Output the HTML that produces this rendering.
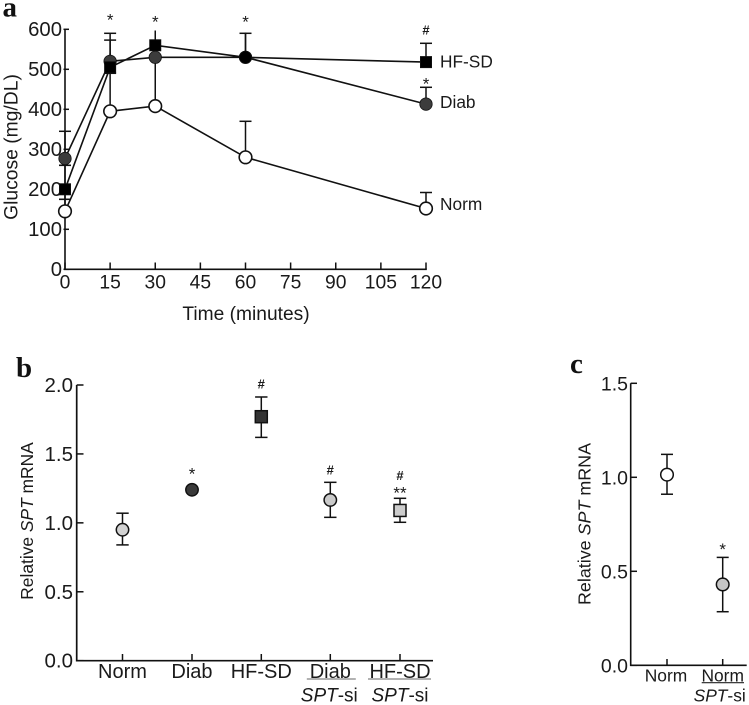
<!DOCTYPE html>
<html lang="en">
<head>
<meta charset="utf-8">
<title>Glucose and SPT mRNA charts</title>
<style>
html,body{margin:0;padding:0;background:#fff;width:749px;height:705px;overflow:hidden}
svg{display:block;font-family:"Liberation Sans",sans-serif;fill:#1a1a1a}
.letter{font-family:"Liberation Serif",serif;font-weight:bold;font-size:29px;fill:#111}
</style>
</head>
<body>
<svg id="fig" width="749" height="705" viewBox="0 0 749 705" xmlns="http://www.w3.org/2000/svg">
  <text class="letter" x="2.5" y="16.5">a</text>
  <text class="letter" x="16" y="377">b</text>
  <text class="letter" x="570" y="373">c</text>
  <text x="246" y="320" text-anchor="middle" font-size="19.2">Time (minutes)</text>
  <text transform="translate(17.5,147) rotate(-90)" text-anchor="middle" font-size="19.3">Glucose (mg/DL)</text>
  <text transform="translate(33,521) rotate(-90)" text-anchor="middle" font-size="17.4">Relative <tspan font-style="italic">SPT</tspan> mRNA</text>
  <text transform="translate(590.5,524) rotate(-90)" text-anchor="middle" font-size="17.9">Relative <tspan font-style="italic">SPT</tspan> mRNA</text>
  <text x="440" y="67.5" font-size="17.3">HF-SD</text>
  <text x="440" y="108" font-size="17.3">Diab</text>
  <text x="440" y="210" font-size="17.3">Norm</text>
</svg>
<script>
/* Panel a data */
var aXTicks = [0, 15, 30, 45, 60, 75, 90, 105, 120];
var aYTicks = [0, 100, 200, 300, 400, 500, 600];
var times = [0, 15, 30, 60, 120];
var normValues = [145, 395, 408, 280, 152];
var normUpper = [175, 573, 560, 370, 192];
var diabValues = [277, 520, 530, 530, 413];
var diabUpper = [345, 590, 560, 590, 455];
var hfValues = [200, 505, 560, 530, 518];
var hfUpper = [260, 540, 597, 592, 565];
var hfLower = [175, 490, 560, 530, 518];
var hfShapes = ['square', 'square', 'square', 'circle', 'square'];
var aMarkTimes = [15, 30, 60, 120, 120];
var aMarkLevels = [632, 627, 627, 472, 607];
var aMarkSymbols = ['*', '*', '*', '*', '#'];

/* Panel b data */
var bCategories = ['Norm', 'Diab', 'HF-SD', 'Diab', 'HF-SD'];
var bSecondRow = ['', '', '', 'SPT', 'SPT'];
var bYTicks = [0, 0.5, 1, 1.5, 2];
var bValues = [0.95, 1.24, 1.77, 1.166, 1.09];
var bUpper = [1.07, null, 1.913, 1.294, 1.178];
var bLower = [0.84, null, 1.62, 1.04, 1.004];
var bShapes = ['circle', 'circle', 'square', 'circle', 'square'];
var bFills = ['#d2d2d2', '#3a3a3a', '#333333', '#cacaca', '#cdcdcd'];
var bMarkLevels = [null, 1.38, 2.033, 1.409, 1.369];
var bMarkSymbols = ['', '*', '#', '#', '#'];

/* Panel c data */
var cCategories = ['Norm', 'Norm'];
var cSecondRow = ['', 'SPT'];
var cYTicks = [0, 0.5, 1, 1.5];
var cValues = [1.014, 0.43];
var cUpper = [1.122, 0.574];
var cLower = [0.91, 0.285];
var cFills = ['#ffffff', '#c6c6c6'];

var NS = 'http://www.w3.org/2000/svg';
var fig = document.getElementById('fig');

function addLine(x1, y1, x2, y2, sw, name, color) {
  var el = document.createElementNS(NS, 'line');
  el.setAttribute('x1', x1);
  el.setAttribute('y1', y1);
  el.setAttribute('x2', x2);
  el.setAttribute('y2', y2);
  el.setAttribute('stroke', color || '#111');
  el.setAttribute('stroke-width', sw);
  
  
  fig.appendChild(el);
  return el;
}
function addText(x, y, str, size, anchor, name) {
  var el = document.createElementNS(NS, 'text');
  el.setAttribute('x', x);
  el.setAttribute('y', y);
  el.setAttribute('font-size', size);
  el.setAttribute('text-anchor', anchor);
  el.textContent = str;
  
  
  fig.appendChild(el);
  return el;
}
function addSymbol(x, baseY, sym, name) {
  var isHash = sym === '#';
  var el = addText(x, baseY + (isHash ? 8 : 9.2), sym, isHash ? 13 : 17, 'middle', name);
  if (isHash) {
    el.setAttribute('font-weight', 'bold');
  }
  return el;
}
function addMarker(shape, x, y, r, fill, sw, name) {
  var el;
  if (shape === 'circle') {
    el = document.createElementNS(NS, 'circle');
    el.setAttribute('cx', x);
    el.setAttribute('cy', y);
    el.setAttribute('r', r);
  } else {
    el = document.createElementNS(NS, 'rect');
    el.setAttribute('x', x - r);
    el.setAttribute('y', y - r);
    el.setAttribute('width', 2 * r);
    el.setAttribute('height', 2 * r);
  }
  el.setAttribute('fill', fill);
  el.setAttribute('stroke', '#111');
  el.setAttribute('stroke-width', sw);
  
  
  fig.appendChild(el);
  return el;
}
function addPolyline(points, name) {
  var el = document.createElementNS(NS, 'polyline');
  el.setAttribute('points', points);
  el.setAttribute('fill', 'none');
  el.setAttribute('stroke', '#111');
  el.setAttribute('stroke-width', 1.6);
  
  
  fig.appendChild(el);
  return el;
}
function addSiLabel(x, y, str, size, name) {
  var el = addText(x, y, '', size, 'middle', name);
  var it = document.createElementNS(NS, 'tspan');
  it.setAttribute('font-style', 'italic');
  it.textContent = str;
  el.appendChild(it);
  el.appendChild(document.createTextNode('-si'));
  return el;
}

/* Panel a */
function ax(v) { return 65 + v * (426 - 65) / 120; }
function ay(v) { return 269.3 - v * 0.4; }

addLine(65, ay(600), 65, 270, 1.6, 'panel-a-y-axis');
addLine(64, 269.3, 426.8, 269.3, 1.6, 'panel-a-x-axis');
aYTicks.forEach(function (t) {
  addLine(63.5, ay(t), 69, ay(t), 1.5, 'panel-a-y-tick-' + t);
  addText(62, ay(t) + 6.7, String(t), 20.3, 'end', 'panel-a-y-tick-label-' + t);
});
aXTicks.forEach(function (t) {
  addLine(ax(t), 269.3, ax(t), 262.5, 1.5, 'panel-a-x-tick-' + t);
  addText(ax(t), 288.3, String(t), 19.3, 'middle', 'panel-a-x-tick-label-' + t);
});

function errorBars(values, upper, lower, name) {
  times.forEach(function (t, i) {
    var top = upper ? upper[i] : values[i];
    var bottom = lower ? lower[i] : values[i];
    addLine(ax(t), ay(top), ax(t), ay(bottom), 1.5, name + '-error-' + t);
    if (!(name === 'diab' && t === 30) && !(name === 'norm' && t === 30) && !(name === 'hf-sd' && (t === 15 || t === 30 || t === 60))) {
      addLine(ax(t) - 6, ay(top), ax(t) + 6, ay(top), 1.5, name + '-error-cap-' + t);
    }
    if (lower && (t === 0 || t === 15)) {
      addLine(ax(t) - 6, ay(bottom), ax(t) + 6, ay(bottom), 1.5, name + '-error-low-cap-' + t);
    }
  });
}
errorBars(diabValues, diabUpper, null, 'diab');
errorBars(hfValues, hfUpper, hfLower, 'hf-sd');
errorBars(normValues, normUpper, null, 'norm');
addLine(ax(0) - 6, ay(260), ax(0) + 6, ay(260), 1.5, 'diab-error-low-cap-0');

function pointsOf(values) {
  return values.map(function (v, i) { return ax(times[i]) + ',' + ay(v); }).join(' ');
}
addPolyline(pointsOf(diabValues), 'diab-line');
addPolyline(pointsOf(hfValues), 'hf-sd-line');
addPolyline(pointsOf(normValues), 'norm-line');

diabValues.forEach(function (v, i) {
  addMarker('circle', ax(times[i]), ay(v), 6.2, '#3c3c3c', 0.8, 'diab-point-' + times[i]);
});
hfValues.forEach(function (v, i) {
  addMarker(hfShapes[i], ax(times[i]), ay(v), hfShapes[i] === 'circle' ? 6.2 : 5.6, '#000', 0.8, 'hf-sd-point-' + times[i]);
});
normValues.forEach(function (v, i) {
  addMarker('circle', ax(times[i]), ay(v), 6.3, '#fff', 1.6, 'norm-point-' + times[i]);
});
aMarkSymbols.forEach(function (s, i) {
  addSymbol(ax(aMarkTimes[i]), ay(aMarkLevels[i]), s, 'panel-a-significance-' + i);
});

/* Panel b */
var bX = [122.5, 192, 261.3, 330.3, 400];
function by(v) { return 660.7 - v * 137.85; }

addLine(76.7, by(2), 76.7, 661.5, 1.7, 'panel-b-y-axis');
addLine(76, 660.7, 433, 660.7, 1.7, 'panel-b-x-axis');
bYTicks.forEach(function (t) {
  addLine(76.7, by(t), 83.5, by(t), 1.5, 'panel-b-y-tick-' + t);
  addText(73, by(t) + 7, t.toFixed(1), 20.5, 'end', 'panel-b-y-tick-label-' + t);
});
bCategories.forEach(function (c, i) {
  addLine(bX[i], 660.7, bX[i], 654, 1.5, 'panel-b-x-tick-' + i);
  addText(bX[i], 678, c, 20, 'middle', 'panel-b-category-' + i);
  if (bSecondRow[i]) {
    addSiLabel(bX[i] - (i === 3 ? 1 : 0), 701.7, bSecondRow[i], 19, 'panel-b-category-si-' + i);
    addLine(bX[i] - (i === 3 ? 23.5 : 32), 679, bX[i] + (i === 3 ? 25.5 : 31), 679, 1.6, 'panel-b-divider-' + i, '#999');
  }
  if (bUpper[i] !== null) {
    addLine(bX[i], by(bUpper[i]), bX[i], by(bLower[i]), 1.5, 'panel-b-error-' + i);
    addLine(bX[i] - 6.2, by(bUpper[i]), bX[i] + 6.2, by(bUpper[i]), 1.5, 'panel-b-error-top-' + i);
    addLine(bX[i] - 6.2, by(bLower[i]), bX[i] + 6.2, by(bLower[i]), 1.5, 'panel-b-error-bottom-' + i);
  }
  addMarker(bShapes[i], bX[i], by(bValues[i]), bShapes[i] === 'circle' ? 6.2 : 6, bFills[i], 1.5, 'panel-b-point-' + i);
  if (bMarkSymbols[i]) {
    addSymbol(bX[i], by(bMarkLevels[i]), bMarkSymbols[i], 'panel-b-significance-' + i);
  }
});
addText(bX[4], by(bUpper[4]), '**', 17, 'middle', 'panel-b-significance-double');

/* Panel c */
var cX = [667, 722.7];
function cy(v) { return 665.3 - v * 188; }

addLine(630.7, cy(1.5), 630.7, 666, 1.6, 'panel-c-y-axis');
addLine(630, 665.3, 746.7, 665.3, 1.6, 'panel-c-x-axis');
cYTicks.forEach(function (t) {
  addLine(630.7, cy(t), 637, cy(t), 1.5, 'panel-c-y-tick-' + t);
  addText(628, cy(t) + 7, t.toFixed(1), 19.5, 'end', 'panel-c-y-tick-label-' + t);
});
cCategories.forEach(function (c, i) {
  addLine(cX[i], 665.3, cX[i], 659, 1.5, 'panel-c-x-tick-' + i);
  addText(cX[i] - (i === 0 ? 1 : 0), 681.7, c, 17.4, 'middle', 'panel-c-category-' + i);
  if (cSecondRow[i]) {
    addSiLabel(cX[i] - 3, 701.7, cSecondRow[i], 17.4, 'panel-c-category-si-' + i);
    addLine(701.7, 682.7, 744, 682.7, 1.2, 'panel-c-divider-' + i, '#222');
  }
  addLine(cX[i], cy(cUpper[i]), cX[i], cy(cLower[i]), 1.5, 'panel-c-error-' + i);
  addLine(cX[i] - 6, cy(cUpper[i]), cX[i] + 6, cy(cUpper[i]), 1.5, 'panel-c-error-top-' + i);
  addLine(cX[i] - 6, cy(cLower[i]), cX[i] + 6, cy(cLower[i]), 1.5, 'panel-c-error-bottom-' + i);
  addMarker('circle', cX[i], cy(cValues[i]), 6.3, cFills[i], 1.5, 'panel-c-point-' + i);
});
addText(cX[1], cy(cUpper[1]) - 2.6, '*', 17, 'middle', 'panel-c-significance');
</script>
</body>
</html>
